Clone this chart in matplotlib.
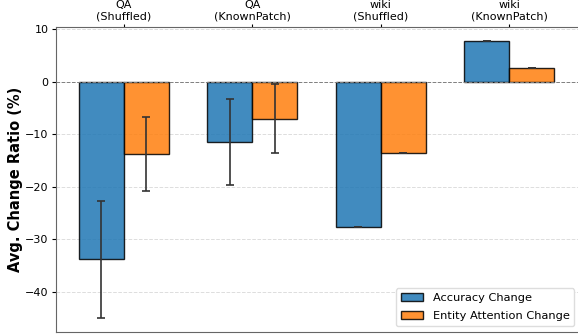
import numpy as np
import matplotlib.pyplot as plt

categories = ['QA\n(Shuffled)', 'QA\n(KnownPatch)', 'wiki\n(Shuffled)', 'wiki\n(KnownPatch)']
acc_change = [-33.8, -11.4, -27.6, 7.75]
acc_err = [11.2, 8.2, 0.0, 0.0]
attn_change = [-13.8, -7.05, -13.65, 2.6]
attn_err = [7.0, 6.6, 0.0, 0.0]

x = np.arange(len(categories))
width = 0.35

fig = plt.figure(figsize=(5.78, 3.35), dpi=100)
# axes run past the right edge like the cropped original
ax = fig.add_axes([56 / 578, 3 / 335, 524 / 578, 305 / 335])

ax.bar(x - width / 2, acc_change, width, yerr=acc_err, capsize=3,
       color='#1f77b4', alpha=0.85, edgecolor='black', linewidth=1,
       error_kw=dict(ecolor='#333333', elinewidth=1.2, capthick=1.2),
       label='Accuracy Change')
ax.bar(x + width / 2, attn_change, width, yerr=attn_err, capsize=3,
       color='#ff7f0e', alpha=0.85, edgecolor='black', linewidth=1,
       error_kw=dict(ecolor='#333333', elinewidth=1.2, capthick=1.2),
       label='Entity Attention Change')

ax.axhline(0, color='gray', linestyle='--', linewidth=0.7)
ax.yaxis.grid(True, linestyle='--', color='#dddddd', linewidth=0.7)
ax.set_axisbelow(True)

ax.set_xticks(x)
ax.set_xticklabels(categories, fontsize=8)
ax.xaxis.tick_top()
ax.tick_params(axis='x', length=2.5, pad=1.5)
ax.set_xlim(-0.527, 3.55)
ax.set_ylim(-47.6, 10.4)
ax.set_yticks([10, 0, -10, -20, -30, -40])
ax.tick_params(axis='y', labelsize=8, length=3, pad=2.5)
ax.set_ylabel('Avg. Change Ratio (%)', fontsize=10.5, fontweight='bold')
ax.yaxis.set_label_coords(-0.063, 0.5)

for s in ax.spines.values():
    s.set_color('#666666')

ax.legend(loc='lower right', bbox_to_anchor=(574 / 578, 9 / 335),
          bbox_transform=fig.transFigure, borderaxespad=0, fontsize=8.2,
          labelspacing=0.75, framealpha=1, edgecolor='#dddddd')

plt.savefig('out.png', dpi=100)
